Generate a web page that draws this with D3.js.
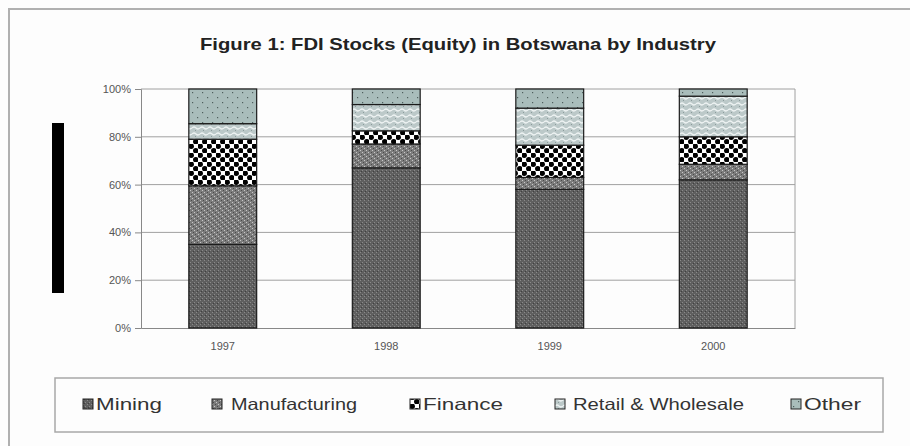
<!DOCTYPE html>
<html lang="en">
<head>
    <meta charset="UTF-8">
    <title>FDI Stocks (Equity) in Botswana by Industry</title>
    <script src="https://d3js.org/d3.v7.min.js"></script>
    <style>
        body {
            margin: 0;
            background: #fff;
            font-family: Arial, "Liberation Sans", sans-serif;
        }
        svg { display: block; }
    </style>
</head>
<body>
    <svg id="chart" width="910" height="446"></svg>

    <script>
        // Data (percent of total equity stock)
        const years = ["1997", "1998", "1999", "2000"];
        const industries = ["Mining", "Manufacturing", "Finance", "Retail & Wholesale", "Other"];
        const mining        = [35, 67, 58, 62];
        const manufacturing = [24.5, 10, 5, 6.5];
        const finance       = [19.5, 5.5, 13.5, 11.5];
        const retail        = [6.5, 11, 15.5, 17];
        const other         = [14.5, 6.5, 8, 3];
        const yTicks = [0, 20, 40, 60, 80, 100];

        const seriesValues = [mining, manufacturing, finance, retail, other];
        const rows = years.map((y, i) => {
            const r = {year: y};
            industries.forEach((k, j) => r[k] = seriesValues[j][i]);
            return r;
        });

        const svg = d3.select("#chart");

        // Outer frame
        svg.append("rect").attr("width", 910).attr("height", 446).attr("fill", "#fdfdfd");
        svg.append("rect")
            .attr("x", 9).attr("y", 9).attr("width", 920).attr("height", 460)
            .attr("fill", "none").attr("stroke", "#b0b0b0").attr("stroke-width", 2);

        // Fill patterns
        const defs = svg.append("defs");

        const pMining = defs.append("pattern").attr("id", "p-mining")
            .attr("width", 4).attr("height", 4).attr("patternUnits", "userSpaceOnUse");
        pMining.append("rect").attr("width", 4).attr("height", 4).attr("fill", "#5f5f5f");
        pMining.append("rect").attr("x", 0).attr("y", 0).attr("width", 1).attr("height", 1).attr("fill", "#8a8a8a");
        pMining.append("rect").attr("x", 2).attr("y", 2).attr("width", 1).attr("height", 1).attr("fill", "#8a8a8a");
        pMining.append("rect").attr("x", 1).attr("y", 3).attr("width", 1).attr("height", 1).attr("fill", "#404040");

        const pManu = defs.append("pattern").attr("id", "p-manu")
            .attr("width", 6).attr("height", 6).attr("patternUnits", "userSpaceOnUse");
        pManu.append("rect").attr("width", 6).attr("height", 6).attr("fill", "#7c7c7c");
        [[0, 0], [2, 2], [4, 4], [3, 0], [5, 2], [1, 4]].forEach(([x, y], i) => {
            pManu.append("rect").attr("x", x).attr("y", y).attr("width", 1).attr("height", 1)
                .attr("fill", i < 3 ? "#c8c8c8" : "#4a4a4a");
        });

        const pFin = defs.append("pattern").attr("id", "p-fin")
            .attr("width", 9).attr("height", 9).attr("patternUnits", "userSpaceOnUse");
        pFin.append("rect").attr("width", 9).attr("height", 9).attr("fill", "#ffffff");
        pFin.append("circle").attr("cx", 2.25).attr("cy", 2.25).attr("r", 2.7).attr("fill", "#000");
        pFin.append("circle").attr("cx", 6.75).attr("cy", 6.75).attr("r", 2.7).attr("fill", "#000");

        const pRetail = defs.append("pattern").attr("id", "p-retail")
            .attr("width", 8).attr("height", 6).attr("patternUnits", "userSpaceOnUse");
        pRetail.append("rect").attr("width", 8).attr("height", 6).attr("fill", "#bcc9c9");
        pRetail.append("path").attr("d", "M0,2 Q2,0 4,2 T8,2")
            .attr("fill", "none").attr("stroke", "#eef3f3").attr("stroke-width", 1.2);
        pRetail.append("rect").attr("x", 3).attr("y", 4).attr("width", 1).attr("height", 1).attr("fill", "#8c9c9c");

        const pOther = defs.append("pattern").attr("id", "p-other")
            .attr("width", 10).attr("height", 10).attr("patternUnits", "userSpaceOnUse");
        pOther.append("rect").attr("width", 10).attr("height", 10).attr("fill", "#a9bdbb");
        pOther.append("rect").attr("x", 2).attr("y", 2).attr("width", 1.2).attr("height", 1.2).attr("fill", "#4f5f5e");
        pOther.append("rect").attr("x", 7).attr("y", 7).attr("width", 1.2).attr("height", 1.2).attr("fill", "#4f5f5e");

        const fills = {
            "Mining": "url(#p-mining)",
            "Manufacturing": "url(#p-manu)",
            "Finance": "url(#p-fin)",
            "Retail & Wholesale": "url(#p-retail)",
            "Other": "url(#p-other)"
        };

        // Title
        svg.append("text")
            .attr("x", 200).attr("y", 50)
            .attr("textLength", 516).attr("lengthAdjust", "spacingAndGlyphs")
            .style("font-size", "17px").style("font-weight", "bold")
            .attr("fill", "#222")
            .text("Figure 1: FDI Stocks (Equity) in Botswana by Industry");

        // Scales
        const plot = {left: 141, right: 795, top: 89, bottom: 328};
        const x = d3.scaleBand().domain(years)
            .range([plot.left, plot.right])
            .paddingInner(0.585).paddingOuter(0.2925);
        const y = d3.scaleLinear().domain([0, 100]).range([plot.bottom, plot.top]);

        // Grid lines
        svg.append("g").selectAll("line")
            .data(yTicks.filter(d => d > 0))
            .join("line")
            .attr("x1", plot.left).attr("x2", plot.right)
            .attr("y1", d => y(d)).attr("y2", d => y(d))
            .attr("stroke", "#a0a0a0").attr("stroke-width", 1);

        // Right edge of plot area
        svg.append("line")
            .attr("x1", plot.right).attr("x2", plot.right)
            .attr("y1", plot.top).attr("y2", plot.bottom)
            .attr("stroke", "#a0a0a0");

        // Y axis
        const yAxis = svg.append("g")
            .attr("transform", `translate(${plot.left},0)`)
            .call(d3.axisLeft(y).tickValues(yTicks).tickSize(6).tickPadding(4).tickFormat(d => d + "%"));
        yAxis.select(".domain").attr("stroke", "#888");
        yAxis.selectAll(".tick line").attr("stroke", "#888");
        yAxis.selectAll("text").attr("fill", "#555").style("font-size", "11px")
            .style("font-family", "Arial, 'Liberation Sans', sans-serif");

        // X axis
        const xAxis = svg.append("g")
            .attr("transform", `translate(0,${plot.bottom})`)
            .call(d3.axisBottom(x).tickSize(0).tickPadding(14));
        xAxis.select(".domain").attr("stroke", "#888");
        xAxis.selectAll("text").attr("fill", "#555").style("font-size", "11px")
            .style("font-family", "Arial, 'Liberation Sans', sans-serif");

        // Stacked bars
        const stacked = d3.stack().keys(industries)(rows);
        svg.append("g").selectAll("g")
            .data(stacked)
            .join("g")
            .attr("fill", d => fills[d.key])
            .selectAll("rect")
            .data(d => d)
            .join("rect")
            .attr("x", d => x(d.data.year))
            .attr("width", x.bandwidth())
            .attr("y", d => y(d[1]))
            .attr("height", d => y(d[0]) - y(d[1]))
            .attr("stroke", "#1a1a1a").attr("stroke-width", 1.2);

        // Black bar at left margin (as in the scanned figure)
        svg.append("rect")
            .attr("x", 52).attr("y", 123).attr("width", 12).attr("height", 170)
            .attr("fill", "#000");

        // Legend
        svg.append("rect")
            .attr("x", 55).attr("y", 378).attr("width", 828).attr("height", 54)
            .attr("fill", "#fdfdfd").attr("stroke", "#a8a8a8").attr("stroke-width", 1.5);

        const legendX = [83, 212, 410, 555, 791];
        const legendW = [66, 126, 80, 171, 57];
        const legendGap = [13, 19, 13, 18, 13];
        const legend = svg.append("g").selectAll("g")
            .data(industries)
            .join("g")
            .attr("transform", (d, i) => `translate(${legendX[i]},404)`);
        legend.append("rect")
            .attr("x", 0).attr("y", -5).attr("width", 10).attr("height", 10)
            .attr("fill", d => fills[d]).attr("stroke", "#222").attr("stroke-width", 1);
        legend.append("text")
            .attr("x", (d, i) => legendGap[i]).attr("y", 6)
            .attr("textLength", (d, i) => legendW[i]).attr("lengthAdjust", "spacingAndGlyphs")
            .style("font-size", "16.5px").attr("fill", "#333")
            .text(d => d);
    </script>
</body>
</html>
